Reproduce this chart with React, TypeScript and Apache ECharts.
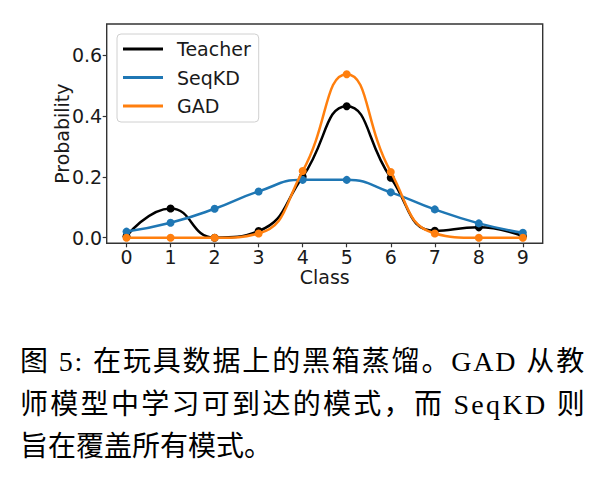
import React, { useEffect, useRef } from "react";
import * as echarts from "echarts";

const classes = [0, 1, 2, 3, 4, 5, 6, 7, 8, 9];
const teacher = [0.005, 0.096, 0.0, 0.022, 0.2, 0.432, 0.197, 0.023, 0.034, 0.005];
const seqkd = [0.02, 0.049, 0.095, 0.152, 0.19, 0.19, 0.149, 0.093, 0.047, 0.016];
const gad = [0.0, 0.0, 0.0, 0.014, 0.219, 0.537, 0.216, 0.014, 0.0, 0.0];
const seriesNames = ["Teacher", "SeqKD", "GAD"];
const xTicks = [0, 1, 2, 3, 4, 5, 6, 7, 8, 9];
const yTicks = [0, 0.2, 0.4, 0.6];
const captionLines = [
  "图 5: 在玩具数据上的黑箱蒸馏。GAD 从教",
  "师模型中学习可到达的模式，而 SeqKD 则",
  "旨在覆盖所有模式。",
];

const SANS = "DejaVu Sans";
const INK = "#1a1a1a";

export default function App() {
  const ref = useRef<HTMLDivElement>(null);
  useEffect(() => {
    if (!ref.current) return;
    const chart = echarts.init(ref.current, null, { renderer: "svg" });
    const mk = (vals: number[]) => classes.map((c, i) => [c, vals[i]]);
    const colors = ["#000000", "#1f77b4", "#ff7f0e"];
    const all = [teacher, seqkd, gad];
    const capFamilies = [
      '"Liberation Serif", "Noto Sans CJK SC", "Noto Sans CJK JP"',
      '"Liberation Serif", "Noto Sans CJK SC", "Noto Sans CJK KR"',
      '"Liberation Serif", "Noto Sans CJK SC"',
    ];
    const capY = [361, 404, 446];
    chart.setOption({
      animation: false,
      backgroundColor: "#ffffff",
      grid: {
        left: 106.7,
        top: 24,
        right: 69.3,
        bottom: 242.7,
        show: true,
        borderColor: "#333",
        borderWidth: 1.4,
        backgroundColor: "transparent",
      },
      legend: {
        data: seriesNames,
        orient: "vertical",
        left: 117,
        top: 34,
        icon: "rect",
        itemWidth: 40,
        itemHeight: 3,
        itemGap: 8.5,
        padding: [5, 8, 6, 6],
        backgroundColor: "rgba(255,255,255,0.8)",
        borderColor: "#d0d0d0",
        borderWidth: 1,
        borderRadius: 4,
        textStyle: {
          fontSize: 19,
          fontFamily: SANS,
          color: INK,
          lineHeight: 20,
          padding: [0, 0, 0, 9],
        },
      },
      xAxis: {
        type: "value",
        min: -0.45,
        max: 9.45,
        splitLine: { show: false },
        axisLine: { show: false, onZero: false },
        axisTick: {
          show: true,
          customValues: xTicks,
          length: 4,
          lineStyle: { color: "#333", width: 1.2 },
        },
        axisLabel: {
          customValues: xTicks,
          fontSize: 19,
          fontFamily: SANS,
          color: INK,
          margin: 4,
        },
        name: "Class",
        nameLocation: "middle",
        nameGap: 22,
        nameTextStyle: { fontSize: 19, fontFamily: SANS, color: INK },
      },
      yAxis: {
        type: "value",
        min: -0.0184,
        max: 0.7019,
        splitLine: { show: false },
        axisLine: { show: false, onZero: false },
        axisTick: {
          show: true,
          customValues: yTicks,
          length: 4,
          lineStyle: { color: "#333", width: 1.2 },
        },
        axisLabel: {
          customValues: yTicks,
          formatter: (v: number) => v.toFixed(1),
          fontSize: 19,
          fontFamily: SANS,
          color: INK,
          margin: 4.5,
        },
        name: "Probability",
        nameLocation: "middle",
        nameRotate: 90,
        nameGap: 35,
        nameMoveOverlap: false,
        nameTextStyle: { fontSize: 19, fontFamily: SANS, color: INK },
      },
      series: seriesNames.map((name, k) => ({
        name,
        type: "line",
        data: mk(all[k]),
        smooth: 0.5,
        symbol: "circle",
        symbolSize: 8,
        showSymbol: true,
        color: colors[k],
        lineStyle: { width: 2.5, color: colors[k] },
        itemStyle: { color: colors[k] },
        z: 2 + k,
      })),
      graphic: captionLines.map((t, i) => ({
        type: "text",
        x: 20,
        y: capY[i],
        style: {
          text: t,
          fontSize: 28,
          fontFamily: capFamilies[i],
          fill: "#000",
          textAlign: "left",
          textVerticalAlign: "middle",
        },
      })),
    });
    return () => chart.dispose();
  }, []);
  return (
    <>
      <style>{`
        text[style*="CJK JP"], text[font-family*="CJK JP"] { letter-spacing: 1.85px; }
        text[style*="CJK KR"], text[font-family*="CJK KR"] { letter-spacing: 2.3px; }
      `}</style>
      <div
        ref={ref}
        style={{ position: "absolute", left: 0, top: 0, width: 612, height: 486 }}
      />
    </>
  );
}
